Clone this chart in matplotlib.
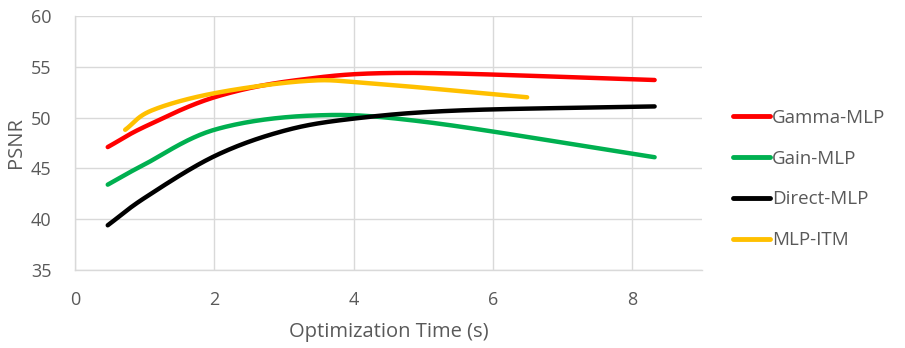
import numpy as np
import matplotlib
matplotlib.use("Agg")
import matplotlib.pyplot as plt

series_names = ["Gamma-MLP", "Gain-MLP", "Direct-MLP", "MLP-ITM"]
colors = ["#FF0000", "#00B050", "#000000", "#FFC000"]

gamma_x = [0.47, 1.0, 2.0, 3.2, 4.8, 8.32]
gamma_y = [47.1, 49.1, 52.0, 53.7, 54.4, 53.7]
gain_x = [0.47, 1.0, 2.0, 3.4, 5.0, 8.32]
gain_y = [43.4, 45.4, 48.8, 50.2, 49.6, 46.1]
direct_x = [0.47, 1.0, 2.0, 3.0, 4.0, 5.5, 8.32]
direct_y = [39.4, 42.1, 46.2, 48.7, 49.9, 50.7, 51.1]
itm_x = [0.72, 1.1, 2.0, 3.3, 4.2, 6.49]
itm_y = [48.8, 50.7, 52.4, 53.6, 53.4, 52.0]

xs = [gamma_x, gain_x, direct_x, itm_x]
ys = [gamma_y, gain_y, direct_y, itm_y]


def smooth(x, y, n=40):
    p = np.column_stack([x, y]).astype(float)
    ext = np.vstack([2 * p[0] - p[1], p, 2 * p[-1] - p[-2]])
    out = []
    for i in range(1, len(ext) - 2):
        p0, p1, p2, p3 = ext[i - 1], ext[i], ext[i + 1], ext[i + 2]
        c1 = p1 + (p2 - p0) / 6.0
        c2 = p2 - (p3 - p1) / 6.0
        t = np.linspace(0, 1, n)[:, None]
        seg = ((1 - t) ** 3) * p1 + 3 * ((1 - t) ** 2) * t * c1 + 3 * (1 - t) * t ** 2 * c2 + t ** 3 * p2
        out.append(seg if i == 1 else seg[1:])
    s = np.vstack(out)
    return s[:, 0], s[:, 1]


plt.rcParams['font.family'] = ['Open Sans', 'DejaVu Sans']
fig = plt.figure(figsize=(9.05, 3.48), dpi=100)
ax = fig.add_axes([75 / 905, 1 - 270 / 348, (702 - 75) / 905, (270 - 16) / 348])

for name, c, x, y in zip(series_names, colors, xs, ys):
    sx, sy = smooth(x, y)
    ax.plot(sx, sy, color=c, lw=3.2, solid_capstyle='round', label=name)

ax.set_xlim(0, 9.0)
ax.set_ylim(35, 60)
ax.set_xticks([0, 2, 4, 6, 8])
ax.set_yticks([35, 40, 45, 50, 55, 60])
ax.grid(True, color="#D9D9D9", lw=1.0)
ax.set_axisbelow(True)
for s in ["top", "right"]:
    ax.spines[s].set_visible(False)
for s in ["left", "bottom"]:
    ax.spines[s].set_color("#D9D9D9")
    ax.spines[s].set_linewidth(1.0)
ax.tick_params(axis='y', length=0, labelsize=13, colors="#595959", pad=17)
ax.tick_params(axis='x', length=0, labelsize=13, colors="#595959", pad=15)
xl = ax.set_xlabel("Optimization Time (s)", fontsize=14.5, color="#595959", va="center")
ax.xaxis.set_label_coords(0.5, -0.245)
yl = ax.set_ylabel("PSNR", fontsize=14.5, color="#595959", va="center")
ax.yaxis.set_label_coords(-0.094, 0.5)

leg = fig.legend(loc="center left", bbox_to_anchor=(733 / 905, 1 - 179 / 348), frameon=False,
                 borderaxespad=0, borderpad=0,
                 fontsize=13.5, handlelength=1.95, handletextpad=0.12, labelspacing=1.22,
                 labelcolor="#595959")
for line in leg.get_lines():
    line.set_linewidth(3.5)

fig.savefig("out.png", dpi=100)
